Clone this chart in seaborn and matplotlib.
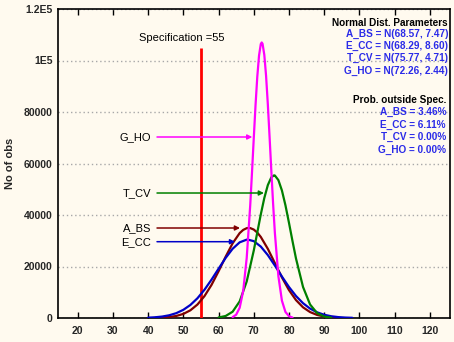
import numpy as np
import pandas as pd
import matplotlib
matplotlib.use('Agg')
import matplotlib.pyplot as plt
import seaborn as sns

# ---------------- data ----------------
series_names = ['A_BS', 'E_CC', 'T_CV', 'G_HO']

abs_x = [42, 44, 46, 48, 50, 52, 54, 56, 58, 60, 62, 64, 66, 67, 68, 68.57, 69, 70, 71, 72, 74, 76, 78, 80, 82, 84, 86, 88, 90, 92, 94]
abs_y = [63, 156, 365, 790, 1591, 2987, 5222, 8493, 12850, 18120, 23760, 29010, 32970, 34210, 34880, 34980, 34920,
         34350, 33180, 31480, 26860, 21330, 15770, 10850, 6950, 4142, 2300, 1187, 571, 255, 106]

ecc_x = [40, 42, 44, 46, 48, 50, 52, 54, 56, 58, 60, 62, 64, 66, 68, 68.29, 70, 72, 74, 76, 78, 80, 82, 84, 86, 88, 90, 92, 94, 96, 98]
ecc_y = [136, 285, 564, 1060, 1885, 3173, 5064, 7655, 10970, 14880, 19130, 23300, 26890, 29390, 30430, 30450, 29850,
         27740, 24430, 20370, 16100, 12050, 8541, 5743, 3654, 2202, 1258, 681, 349, 170, 78]

tcv_x = [60, 62, 64, 66, 68, 70, 71, 72, 73, 74, 75, 75.77, 76, 77, 78, 79, 80, 81, 82, 84, 86, 88, 90, 92]
tcv_y = [204, 772, 2443, 6449, 14200, 26160, 33170, 40210, 46600, 51620, 54660, 55400, 55330, 53540, 49530, 43790,
         37010, 29910, 23100, 12040, 5240, 1901, 577, 146]

gho_x = [64, 65, 66, 67, 68, 69, 69.5, 70, 70.5, 71, 71.5, 72, 72.26, 72.5, 73, 73.5, 74, 74.5, 75, 75.5, 76, 77, 78, 79, 80, 81]
gho_y = [350, 1270, 3980, 10470, 23320, 43830, 56440, 69680, 82500, 93650, 101900, 106400, 107000, 106500, 102200,
         94050, 82980, 70210, 56960, 44310, 33040, 16220, 6730, 2360, 700, 175]

dist_params = ['N(68.57, 7.47)', 'N(68.29, 8.60)', 'N(75.77, 4.71)', 'N(72.26, 2.44)']
prob_outside = ['3.46%', '6.11%', '0.00%', '0.00%']

spec_value = 55
spec_top = 105000

# arrow label positions (label y, arrow tip x)
label_y = {'G_HO': 70290, 'T_CV': 48540, 'A_BS': 34950, 'E_CC': 29630}
tip_x = {'G_HO': 69.6, 'T_CV': 72.9, 'A_BS': 66.1, 'E_CC': 64.7}

x_ticks = [20, 30, 40, 50, 60, 70, 80, 90, 100, 110, 120]
y_ticks = [0, 20000, 40000, 60000, 80000, 100000, 120000]
y_tick_labels = ['0', '20000', '40000', '60000', '80000', '1E5', '1.2E5']

# ---------------- style ----------------
colors = {'A_BS': '#800000', 'E_CC': '#0000C8', 'T_CV': '#008000', 'G_HO': '#FF00FF'}
bg = '#FFFAEF'
text_blue = '#2B2BE8'

sns.set_theme(style='white')
plt.rcParams['font.family'] = ['Liberation Sans', 'DejaVu Sans']

frames = []
for name, xs, ys in [('A_BS', abs_x, abs_y), ('E_CC', ecc_x, ecc_y), ('T_CV', tcv_x, tcv_y), ('G_HO', gho_x, gho_y)]:
    frames.append(pd.DataFrame({'x': xs, 'y': ys, 'series': name}))
df = pd.concat(frames, ignore_index=True)

W, H = 454, 342
fig = plt.figure(figsize=(W / 100, H / 100), dpi=100, facecolor=bg)
ax = fig.add_axes([58 / W, 1 - 318 / H, (449.5 - 58) / W, (318 - 9) / H])
ax.set_facecolor(bg)

# grid
ax.set_axisbelow(True)
ax.yaxis.grid(True, linestyle=(0, (1, 2)), color='#A8A8A8', lw=1)
ax.xaxis.grid(False)

# spec line
ax.vlines(spec_value, 0, spec_top, color='#FF0000', lw=2.0, zorder=3)

for name in series_names:
    sub = df[df['series'] == name]
    sns.lineplot(data=sub, x='x', y='y', color=colors[name], lw=1.6, ax=ax, legend=False, zorder=4,
                 estimator=None, sort=True)

ax.set_xlim(14.4, 125.6)
ax.set_ylim(0, 120000)
ax.set_xticks(x_ticks)
ax.set_xticklabels([str(t) for t in x_ticks], fontweight='bold', fontsize=7.5)
ax.set_yticks(y_ticks)
ax.set_yticklabels(y_tick_labels, fontweight='bold', fontsize=7.5)
ax.tick_params(axis='x', direction='in', top=True, bottom=True, length=4, width=1, color='black', pad=6)
ax.tick_params(axis='y', length=0, pad=4)
ax.set_xlabel('')
ax.set_ylabel('No of obs', fontweight='bold', fontsize=8, labelpad=6)

for s in ax.spines.values():
    s.set_color('black')
    s.set_linewidth(1.2)
    s.set_visible(True)

# spec text
ax.text(49.6, 108700, 'Specification =55', ha='center', va='center', fontsize=8, color='black')

# arrows with labels
for name in ['G_HO', 'T_CV', 'A_BS', 'E_CC']:
    yv = label_y[name]
    ax.annotate(name, xy=(tip_x[name], yv), xytext=(40.8, yv), ha='right', va='center',
                fontsize=8, color='black',
                arrowprops=dict(arrowstyle='-|>', color=colors[name], lw=1.1, shrinkA=2, shrinkB=0,
                                mutation_scale=7), zorder=5)

# parameter texts (top right)
xr = 448 / W
fig.text(xr, 1 - 22.5 / H, 'Normal Dist. Parameters', ha='right', va='center', fontsize=7.2,
         fontweight='bold', color='black')
for i, name in enumerate(series_names):
    fig.text(xr, 1 - (34 + 12.2 * i) / H, f'{name} = {dist_params[i]}', ha='right', va='center',
             fontsize=7.2, fontweight='bold', color=text_blue)

xr2 = 446 / W
fig.text(xr2, 1 - 99.5 / H, 'Prob. outside Spec.', ha='right', va='center', fontsize=7.2,
         fontweight='bold', color='black')
for i, name in enumerate(series_names):
    fig.text(xr2, 1 - (112 + 12.5 * i) / H, f'{name} = {prob_outside[i]}', ha='right', va='center',
             fontsize=7.2, fontweight='bold', color=text_blue)

fig.savefig('out.png', dpi=100, facecolor=bg)
